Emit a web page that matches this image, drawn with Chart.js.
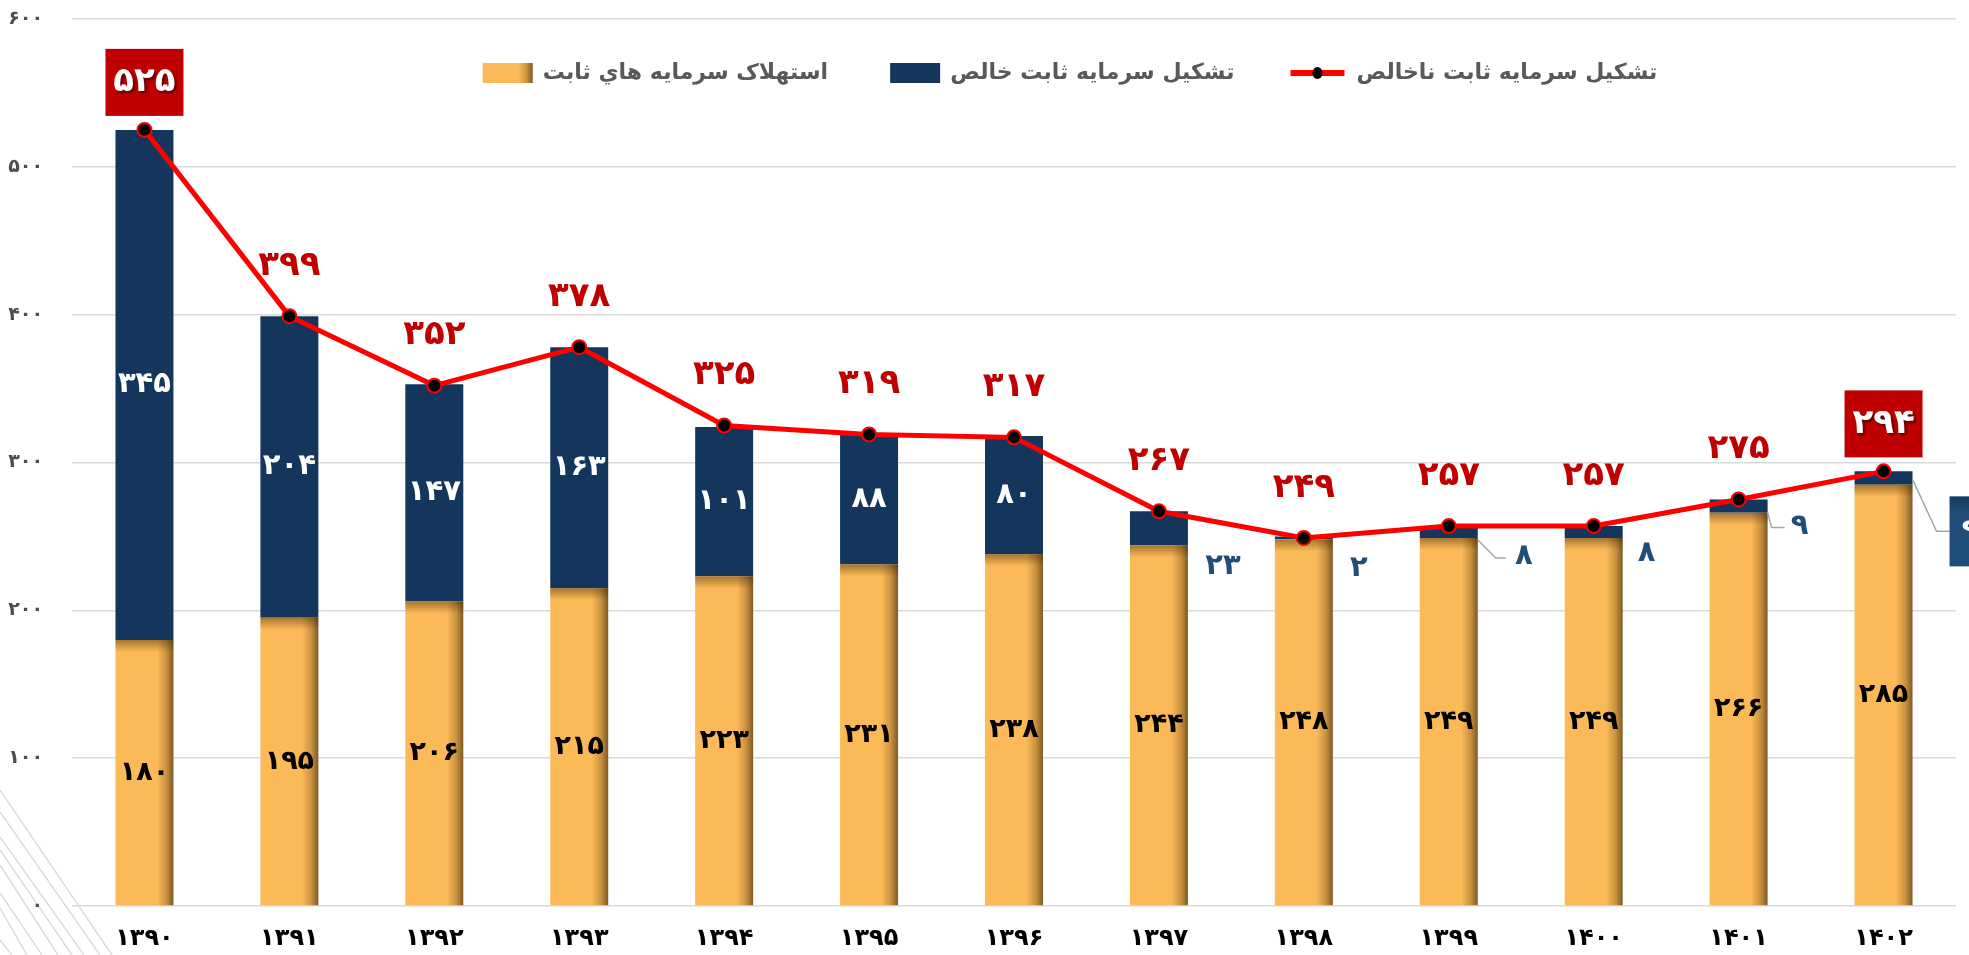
<!DOCTYPE html>
<html lang="fa">
<head>
<meta charset="utf-8">
<title>تشکیل سرمایه ثابت</title>
<script src="https://cdn.jsdelivr.net/npm/chart.js@4.4.1/dist/chart.umd.min.js"></script>
<style>
  html, body { margin: 0; padding: 0; background: #fff; }
  #wrap { width: 1969px; height: 955px; }
</style>
</head>
<body>
<div id="wrap"><canvas id="chart"></canvas></div>
<script>
const years = ["1390", "1391", "1392", "1393", "1394", "1395", "1396", "1397", "1398", "1399", "1400", "1401", "1402"];
const depreciation = [180, 195, 206, 215, 223, 231, 238, 244, 248, 249, 249, 266, 285];
const netFormation = [345, 204, 147, 163, 101, 88, 80, 23, 2, 8, 8, 9, 9];
const grossFormation = [525, 399, 352, 378, 325, 319, 317, 267, 249, 257, 257, 275, 294];
const yTicks = [0, 100, 200, 300, 400, 500, 600];

const seriesNames = ["استهلاک سرمایه هاي ثابت", "تشکیل سرمایه ثابت خالص", "تشکیل سرمایه ثابت ناخالص"];

const ORANGE = "#FBB957";
const NAVY = "#14365C";
const RED = "#FF0000";
const DARK_RED = "#C00000";
const FONT = "'DejaVu Sans', sans-serif";

// where the small net labels go (relative to bar right edge / top of navy part)
const netLabelPlace = [
  null, null, null, null, null, null, null,
  { dx: 35, dy: 55 },
  { dx: 26, dy: 32 },
  { dx: 46, dy: 30, leader: [[0, 14], [18, 32], [28, 32]] },
  { dx: 24, dy: 27 },
  { dx: 32, dy: 27, leader: [[0, 13], [4, 28], [17, 28]] },
  { dx: 58, dy: 60, leader: [[0, 8], [24, 60], [37, 60]], box: true },
];
const boxedGross = [0, 12];

const toFa = (v) => String(v).replace(/\d/g, (d) => "۰۱۲۳۴۵۶۷۸۹"[d]);

const orangeGradient = (ctx, x0, x1) => {
  const g = ctx.createLinearGradient(x0, 0, x1, 0);
  g.addColorStop(0, ORANGE);
  g.addColorStop(0.72, ORANGE);
  g.addColorStop(0.88, "#C8903F");
  g.addColorStop(1, "#7E5A26");
  return g;
};

const cornerLines = {
  id: "cornerLines",
  beforeDraw(chart) {
    const ctx = chart.ctx;
    ctx.save();
    ctx.strokeStyle = "#DCDCDC";
    ctx.lineWidth = 1.5;
    [[790, 112], [812, 100], [837, 84], [850, 72], [865, 58], [893, 42], [908, 27], [940, 12]].forEach(([y0, x1]) => {
      ctx.beginPath();
      ctx.moveTo(0, y0);
      ctx.lineTo(x1, 955);
      ctx.stroke();
    });
    ctx.restore();
  },
};

// legend drawn inside the plot, centred a bit right of the middle
const topLegend = {
  id: "topLegend",
  afterDraw(chart) {
    const ctx = chart.ctx;
    const cy = 73;
    const iconW = 58, gap = 10, pad = 54;
    ctx.save();
    ctx.font = "bold 22px " + FONT;
    const widths = seriesNames.map((t) => ctx.measureText(t).width);
    const total = widths.reduce((a, w) => a + iconW + gap + w, 0) + pad * (seriesNames.length - 1);
    let x = 1066 - total / 2;
    seriesNames.forEach((name, i) => {
      if (i === 2) {
        ctx.strokeStyle = RED;
        ctx.lineWidth = 6;
        ctx.beginPath();
        ctx.moveTo(x + 2, cy);
        ctx.lineTo(x + 56, cy);
        ctx.stroke();
        ctx.beginPath();
        ctx.ellipse(x + 29, cy, 5, 6, 0, 0, Math.PI * 2);
        ctx.fillStyle = "#000";
        ctx.fill();
      } else {
        ctx.fillStyle = i === 1 ? NAVY : orangeGradient(ctx, x + 8, x + 58);
        ctx.fillRect(x + 8, cy - 10, 50, 20);
      }
      ctx.fillStyle = "#595959";
      ctx.textAlign = "left";
      ctx.textBaseline = "middle";
      ctx.fillText(name, x + iconW + gap, cy);
      x += iconW + gap + widths[i] + pad;
    });
    ctx.restore();
  },
};

const valueLabels = {
  id: "valueLabels",
  afterDatasetsDraw(chart) {
    const ctx = chart.ctx;
    const depMeta = chart.getDatasetMeta(0);
    const netMeta = chart.getDatasetMeta(1);
    const grossMeta = chart.getDatasetMeta(2);
    ctx.save();

    // soft shadow of the navy part on the orange part
    depMeta.data.forEach((bar) => {
      const g = ctx.createLinearGradient(0, bar.y, 0, bar.y + 12);
      g.addColorStop(0, "rgba(60,35,0,0.45)");
      g.addColorStop(1, "rgba(60,35,0,0)");
      ctx.fillStyle = g;
      ctx.fillRect(bar.x - bar.width / 2, bar.y, bar.width, 12);
    });

    ctx.textAlign = "center";
    ctx.textBaseline = "middle";

    // depreciation labels
    ctx.font = "bold 27px " + FONT;
    ctx.fillStyle = "#000";
    depMeta.data.forEach((bar, i) => {
      ctx.fillText(toFa(depreciation[i]), bar.x, (bar.y + bar.base) / 2);
    });

    // net formation labels
    netMeta.data.forEach((bar, i) => {
      const place = netLabelPlace[i];
      const txt = toFa(netFormation[i]);
      ctx.font = "bold 29px " + FONT;
      if (!place) {
        ctx.fillStyle = "#fff";
        ctx.fillText(txt, bar.x, (bar.y + bar.base) / 2);
        return;
      }
      const xr = bar.x + bar.width / 2;
      const top = bar.y;
      if (place.leader) {
        ctx.strokeStyle = "#A6A6A6";
        ctx.lineWidth = 1.5;
        ctx.beginPath();
        place.leader.forEach(([dx, dy], k) => {
          if (k === 0) ctx.moveTo(xr + dx, top + dy);
          else ctx.lineTo(xr + dx, top + dy);
        });
        ctx.stroke();
      }
      if (place.box) {
        const bx = xr + place.leader[2][0];
        const by = top + 25;
        const g = ctx.createLinearGradient(0, by, 0, by + 70);
        g.addColorStop(0, "#163A60");
        g.addColorStop(0.25, "#1F4E79");
        g.addColorStop(1, "#1F4E79");
        ctx.fillStyle = g;
        ctx.fillRect(bx, by, 44, 70);
        ctx.fillStyle = "#fff";
      } else {
        ctx.fillStyle = "#1F4E79";
      }
      ctx.fillText(txt, xr + place.dx, top + place.dy);
    });

    // gross formation labels
    grossMeta.data.forEach((pt, i) => {
      const txt = toFa(grossFormation[i]);
      ctx.font = "bold 34px " + FONT;
      if (boxedGross.includes(i)) {
        const w = 78, h = 67;
        const by = pt.y - 14 - h;
        ctx.fillStyle = DARK_RED;
        ctx.fillRect(pt.x - w / 2, by, w, h);
        ctx.save();
        ctx.shadowColor = "rgba(0,0,0,0.55)";
        ctx.shadowBlur = 3;
        ctx.shadowOffsetX = 2;
        ctx.shadowOffsetY = 2;
        ctx.fillStyle = "#fff";
        ctx.fillText(txt, pt.x, by + h / 2);
        ctx.restore();
      } else {
        ctx.fillStyle = DARK_RED;
        ctx.fillText(txt, pt.x, pt.y - 50);
      }
    });
    ctx.restore();
  },
};

const chartCtx = document.getElementById("chart").getContext("2d");

new Chart(chartCtx, {
  type: "bar",
  data: {
    labels: years,
    datasets: [
      {
        label: seriesNames[0],
        data: depreciation,
        order: 1,
        backgroundColor: (c) => {
          const chart = c.chart;
          if (c.type !== "data" || !chart.chartArea) return ORANGE;
          const xs = chart.scales.x;
          const x = xs.getPixelForValue(c.dataIndex);
          const half = (xs.width / years.length) * 0.4 / 2;
          return orangeGradient(chart.ctx, x - half, x + half);
        },
        categoryPercentage: 1,
        barPercentage: 0.4,
      },
      {
        label: seriesNames[1],
        data: netFormation,
        order: 1,
        backgroundColor: NAVY,
        categoryPercentage: 1,
        barPercentage: 0.4,
      },
      {
        type: "line",
        label: seriesNames[2],
        data: grossFormation,
        order: 0,
        borderColor: RED,
        borderWidth: 5,
        tension: 0,
        pointRadius: 7,
        pointBorderWidth: 2,
        pointBackgroundColor: "#000",
        pointBorderColor: RED,
        fill: false,
      },
    ],
  },
  options: {
    responsive: true,
    maintainAspectRatio: false,
    animation: false,
    devicePixelRatio: 1,
    layout: { autoPadding: false, padding: { top: 19, right: 13, left: 0, bottom: 0 } },
    plugins: {
      tooltip: { enabled: false },
      legend: { display: false },
    },
    scales: {
      x: {
        stacked: true,
        grid: { display: false },
        border: { display: false },
        ticks: {
          color: "#000",
          padding: 10,
          font: { family: FONT, size: 24, weight: "bold" },
          callback: (v, i) => toFa(years[i]),
        },
        afterFit: (s) => { s.height = 49; },
      },
      y: {
        stacked: true,
        min: 0,
        max: 600,
        border: { display: false },
        grid: { color: "#D9D9D9", lineWidth: 1.5, drawTicks: false },
        afterBuildTicks: (s) => { s.ticks = yTicks.map((v) => ({ value: v })); },
        ticks: {
          color: "#4D4D4D",
          padding: 29,
          font: { family: FONT, size: 19, weight: "bold" },
          callback: (v) => toFa(v),
        },
        afterFit: (s) => {
          s.width = 72;
          s.paddingTop = 11;
          s.paddingBottom = 11;
        },
      },
    },
  },
  plugins: [cornerLines, topLegend, valueLabels],
});
</script>
</body>
</html>
